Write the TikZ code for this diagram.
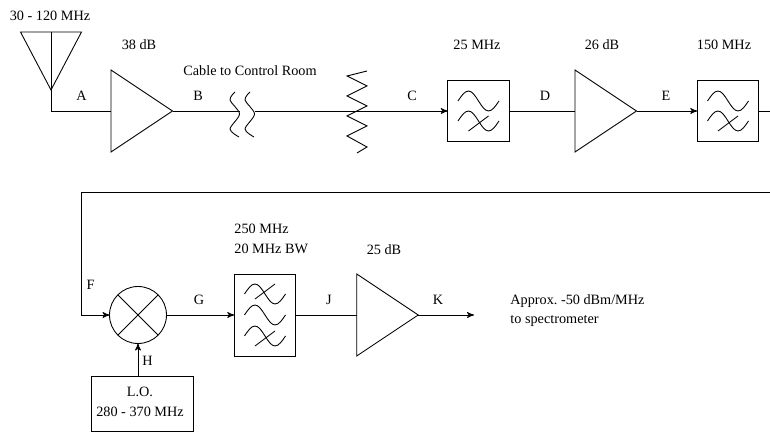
\documentclass[tikz,border=0pt]{standalone}
\usepackage{fontspec}
\setmainfont{Liberation Serif}
\usetikzlibrary{shapes.geometric}
\usetikzlibrary{arrows,positioning}
\newcommand{\wave}[2]{\draw (#1-0.41,#2) sin (#1-0.2,#2+0.2) cos (#1,#2) sin (#1+0.2,#2-0.2) cos (#1+0.41,#2);}
\newcommand{\notch}[2]{\draw (#1-0.2,#2-0.2) -- (#1+0.2,#2+0.1);}
\newcommand{\squiggle}[1]{\draw plot[smooth] coordinates {(#1+0.10,6.80) (#1,6.64) (#1+0.19,6.36) (#1,6.06) (#1+0.18,5.90)};}
\frenchspacing
\begin{document}
\begin{tikzpicture}[-,auto,line width=0.5pt,>=stealth',font=\fontsize{8.1}{9.5}\selectfont]
\tikzstyle{amp}=[draw,isosceles triangle,isosceles triangle stretches,shape border rotate=0,minimum width=1.64cm,minimum height=1.23cm,inner sep=0pt,outer sep=0pt,anchor=west]
\tikzstyle{filt}=[draw,rectangle,minimum width=1.23cm,minimum height=1.23cm,inner sep=0pt,outer sep=0pt]
\tikzstyle{lbl}=[inner sep=0pt]
\useasboundingbox (0,0) rectangle (15.4,8.64);
% first row
\node [draw,isosceles triangle,isosceles triangle stretches,shape border rotate=270,minimum width=1.22cm,minimum height=1.16cm,inner sep=0pt,outer sep=0pt,anchor=apex] (ant) at(1.02,6.84) {};
\coordinate (foot) at(1.02,6.42);
\node [amp] (amp1) at(2.22,6.42) {};
\coordinate (breakL) at(4.80,6.42);
\coordinate (breakR) at(5.10,6.42);
\node [filt] (filt1) at(9.57,6.42) {};
\node [amp] (amp2) at(11.50,6.42) {};
\node [filt] (filt2) at(14.56,6.42) {};
\coordinate (endR) at(15.40,6.42);
% second row
\coordinate (wrapR) at(15.40,4.79);
\coordinate (wrapL) at(1.62,4.79);
\coordinate (wrapD) at(1.62,2.34);
\node [draw,circle,minimum size=1.14cm,inner sep=0pt,outer sep=0pt] (mix) at(2.76,2.34) {};
\node [filt,minimum height=1.64cm] (filt3) at(5.30,2.34) {};
\node [amp] (amp3) at(7.134,2.34) {};
\coordinate (out) at(9.48,2.34);
\node [draw,rectangle,minimum width=2.04cm,minimum height=1.1cm,inner sep=0pt,outer sep=0pt] (lo) at(2.854,0.57) {};
% labels
\node [lbl] (band) at(1.00,8.32) {30 - 120 MHz};
\node [lbl] (gain1) at(2.78,7.74) {38 dB};
\node [lbl] (cable) at(5.00,7.22) {Cable to Control Room};
\node [lbl] (bw1) at(9.54,7.74) {25 MHz};
\node [lbl] (gain2) at(12.04,7.74) {26 dB};
\node [lbl] (bw2) at(14.48,7.74) {150 MHz};
\node [lbl] (A) at(1.63,6.72) {A};
\node [lbl] (B) at(3.96,6.72) {B};
\node [lbl] (C) at(8.24,6.72) {C};
\node [lbl] (D) at(10.90,6.72) {D};
\node [lbl] (E) at(13.32,6.72) {E};
\node [lbl] (F) at(1.81,2.94) {F};
\node [lbl] (G) at(3.98,2.64) {G};
\node [lbl] (H) at(2.95,1.42) {H};
\node [lbl] (J) at(6.58,2.64) {J};
\node [lbl] (K) at(8.76,2.64) {K};
\node [lbl,anchor=west] (bw3a) at(4.68,4.06) {250 MHz};
\node [lbl,anchor=west] (bw3b) at(4.68,3.66) {20 MHz BW};
\node [lbl] (gain3) at(7.68,3.64) {25 dB};
\node [lbl] (lo1) at(2.80,0.80) {L.O.};
\node [lbl] (lo2) at(2.80,0.40) {280 - 370 MHz};
\node [lbl,anchor=west] (spec1) at(10.20,2.62) {Approx. -50 dBm/MHz};
\node [lbl,anchor=west] (spec2) at(10.20,2.22) {to spectrometer};
% symbols
\squiggle{4.60}
\squiggle{4.90}
\draw (7.34,7.22) -- (6.94,7.12) -- (7.34,6.92) -- (6.94,6.72) -- (7.34,6.52) -- (6.94,6.32) -- (7.34,6.12) -- (6.94,5.92) -- (7.34,5.70) -- (7.14,5.58);
\wave{9.57}{6.62}
\wave{9.57}{6.22}
\notch{9.57}{6.22}
\wave{14.56}{6.62}
\wave{14.56}{6.22}
\notch{14.56}{6.22}
\wave{5.30}{2.76}
\notch{5.30}{2.86}
\wave{5.30}{2.34}
\wave{5.30}{1.92}
\notch{5.30}{1.92}
\path (mix.45) edge (mix.225);
\path (mix.135) edge (mix.315);
% connections
\path (ant.north) edge (foot);
\path (foot) edge (amp1.west);
\path (amp1.east) edge (breakL);
\path (breakR) edge[->] (filt1);
\path (filt1) edge (amp2.west);
\path (amp2.east) edge[->] (filt2);
\path (filt2) edge (endR);
\path (wrapR) edge (wrapL);
\path (wrapL) edge (wrapD);
\path (wrapD) edge[->] (mix);
\path (mix) edge[->] (filt3);
\path (filt3) edge (amp3.west);
\path (amp3.east) edge[->] (out);
\path (mix |- lo.north) edge[->] (mix);
\end{tikzpicture}
\end{document}
